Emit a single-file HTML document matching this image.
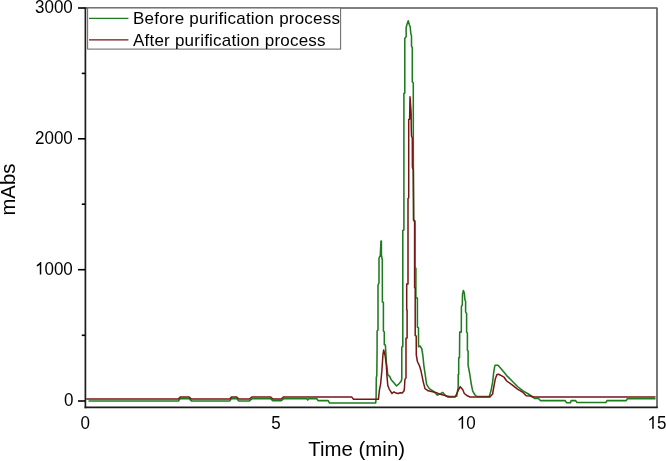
<!DOCTYPE html>
<html><head><meta charset="utf-8"><style>
html,body{margin:0;padding:0;background:#fff;}
svg{display:block;will-change:transform;}
text{font-family:"Liberation Sans",sans-serif;fill:#000;}
</style></head><body>
<svg width="666" height="461" viewBox="0 0 666 461">
<rect width="666" height="461" fill="#fff"/>
<!-- frame -->
<polyline points="85,8 657,8 657,407.2" fill="none" stroke="#555" stroke-width="1.6" stroke-linejoin="round"/>
<!-- data -->
<polyline points="88.5,400.9 178.4,400.9 180.2,398.6 189.2,398.6 191.4,400.9 229.8,400.9 231.5,398.6 236.7,398.6 238.7,400.9 249.4,400.9 251.8,398.8 270.7,398.8 272.8,400.6 281.2,400.6 283.6,398.8 307,398.8 307.7,400 308.4,398.8 316.8,398.8 318,400.6 328.2,400.6 329.4,402.9 375.7,402.9 376.1,397.8 376.3,377.3 376.8,376 377.1,350 377.1,331 378,330 378,285 379,283 379,258 380.3,255.5 381,241 381.4,241 381.4,255 382.3,260 382.4,302 383.4,302.4 383.4,331 384.3,332 384.3,344.8 385.4,345 386.4,362.8 386.7,365 387.8,374.9 389.7,376.4 391.2,379.8 393.9,382.8 396.5,385.9 398.8,384 401.1,381.3 401.8,379 401.8,347 402.8,346.7 402.8,230.4 403.9,230 403.9,93.5 404.8,93 404.8,38.5 406.2,36.5 406.1,28 406.8,25 408.2,20.8 409.3,24.4 410.2,27 410.9,34 411.5,35.7 411.5,46.2 412.3,47.9 412.3,81.7 413.3,83 413.3,150 413.6,220 415,221 415,268 415.9,268.3 415.9,298 417.4,298 417.4,327.2 418.5,328 418.5,346.7 420,346 421.7,348.5 422.8,355 423.9,365.8 425.5,376.7 426.6,384.3 429.3,388.6 433.6,391.3 437.4,395.1 440,394 442.8,392.4 445.6,395.7 450,396.5 456.7,396.3 458.2,386.7 458.2,374.5 458.7,374.5 458.7,357.8 459.5,357.8 459.7,332.1 461.3,332.1 461.4,306.6 462.3,304.9 462.5,294.4 463.4,290.5 464.4,293.6 464.9,299.7 465.6,301.4 465.6,311.8 466.6,313.6 466.6,332.1 467.4,333 467.4,350.2 468.1,351 468.1,365.4 469.6,373 471.2,383.6 472.7,391.2 475,395 477,396.5 489.3,396.4 491,390.8 492.6,382.1 493.7,372.4 494.8,365.8 495.3,365.3 498,365.3 501.3,369.1 506.7,375.6 512.1,381 517.5,386.5 523,390.8 528.4,394 532.8,397 534.5,398.5 538.5,398.5 540.3,400.6 565.2,400.6 566.5,402.7 570.5,402.7 571.2,400.6 575.5,400.6 577,402.5 605.8,402.5 607,400.6 626.2,400.6 627.4,398.8 655.5,398.8" fill="none" stroke="#1f7b1f" stroke-width="1.55" stroke-linejoin="round"/>
<polyline points="86.2,399 178.4,399 180.2,397 189.2,397 191.4,399 229.8,399 231.5,397 236.7,397 238.7,399 249.4,399 251.8,397 270.7,397 272.8,399 281.2,399 283.6,396.9 351.6,396.9 353.5,399.3 378.4,399.3 379.4,390.2 380.6,384.1 381.9,370.4 382.9,355.2 383.7,349.9 385.2,356 386.3,365 387,376.4 387.8,385.5 389.3,389.3 390.8,391.6 392,393.5 393.9,391.9 396.1,393.1 398,393.5 400.3,392.7 402.2,393.1 404.1,390.8 404.5,387 404.9,379.4 406,377.9 406,338.2 407.1,338 407.1,310 406.7,310 406.7,284 408,283.9 408,198.5 408.7,198 408.7,119.5 409.6,119.3 410,96.7 410.6,105.4 411.1,112.3 411.3,130 411.5,136 412.3,138 412.4,167 413.3,170 413.5,200 413.6,220 414.6,222 414.6,287.8 415.2,288 415.2,335.6 416.2,336 416.3,355 417.4,361.5 419.5,365.8 421.1,371.3 423.3,382.1 425,388.6 428.2,390.8 435.8,392.4 441.2,394.6 446,395.8 447.7,397 455.2,397 457.5,392 460.2,386.7 462.8,389.7 464.3,393.5 467.4,395.8 470,397 489.9,397.1 492.6,394 493.7,387.5 495.3,378.9 496.9,374.5 498.6,374.3 501.3,375.6 504,377.2 506.7,381 512.1,384.8 517.5,389.2 523,392.4 526.2,395.7 530.6,396 532.8,397 655.5,397" fill="none" stroke="#781515" stroke-width="1.5" stroke-linejoin="round"/>
<!-- axes -->
<line x1="85.4" y1="7.2" x2="85.4" y2="408.2" stroke="#1c1c1c" stroke-width="1.7"/>
<line x1="84.6" y1="407.3" x2="657.8" y2="407.3" stroke="#1c1c1c" stroke-width="1.8"/>
<!-- y ticks -->
<g stroke="#000" stroke-width="1.6">
<line x1="78" y1="8" x2="85" y2="8"/>
<line x1="78" y1="138.8" x2="85" y2="138.8"/>
<line x1="78" y1="269.7" x2="85" y2="269.7"/>
<line x1="78" y1="401" x2="85" y2="401"/>
<line x1="81.8" y1="73.4" x2="85" y2="73.4"/>
<line x1="81.8" y1="204.2" x2="85" y2="204.2"/>
<line x1="81.8" y1="335.3" x2="85" y2="335.3"/>
</g>
<!-- legend -->
<rect x="87.6" y="8" width="253" height="41.1" fill="#fff" stroke="#6a6a6a" stroke-width="1.05"/>
<line x1="89" y1="18.4" x2="128.4" y2="18.4" stroke="#1f7b1f" stroke-width="1.25"/>
<line x1="89" y1="39.8" x2="128.4" y2="39.8" stroke="#781515" stroke-width="1.25"/>
<text x="133" y="24.4" font-size="17" letter-spacing="0.22">Before purification process</text>
<text x="133" y="45.8" font-size="17" letter-spacing="0.22">After purification process</text>
<!-- tick labels -->
<g font-size="17.5">
<text transform="translate(72.8,12.6) scale(0.972,1)" text-anchor="end">3000</text>
<text transform="translate(72.8,143.6) scale(0.972,1)" text-anchor="end">2000</text>
<text transform="translate(72.8,274.6) scale(0.972,1)" text-anchor="end">000</text>
<text transform="translate(73.4,405.5) scale(0.972,1)" text-anchor="end">0</text>
<text transform="translate(85.3,428.9) scale(0.972,1)" text-anchor="middle">0</text>
<text transform="translate(275.9,428.9) scale(0.972,1)" text-anchor="middle">5</text>
<text transform="translate(466.3,428.9) scale(0.972,1)">0</text>
<text transform="translate(656.9,428.9) scale(0.972,1)">5</text>
</g>
<g fill="#000">
<path transform="translate(34.95,274.6) scale(0.0083,-0.0086)" d="M763,0 L583,0 L583,1147 Q518,1085 422,1028.5 Q326,972 221,933 L221,1107 Q372,1178 482.5,1277.5 Q593,1377 647,1466 L763,1466 Z"/>
<path transform="translate(456.8,428.7) scale(0.0083,-0.0086)" d="M763,0 L583,0 L583,1147 Q518,1085 422,1028.5 Q326,972 221,933 L221,1107 Q372,1178 482.5,1277.5 Q593,1377 647,1466 L763,1466 Z"/>
<path transform="translate(647.4,428.7) scale(0.0083,-0.0086)" d="M763,0 L583,0 L583,1147 Q518,1085 422,1028.5 Q326,972 221,933 L221,1107 Q372,1178 482.5,1277.5 Q593,1377 647,1466 L763,1466 Z"/>
</g>
<text x="356.7" y="456.4" font-size="20.4" text-anchor="middle">Time (min)</text>
<text transform="translate(14.6,189.6) rotate(-90)" font-size="20.3" text-anchor="middle">mAbs</text>
</svg>
</body></html>
